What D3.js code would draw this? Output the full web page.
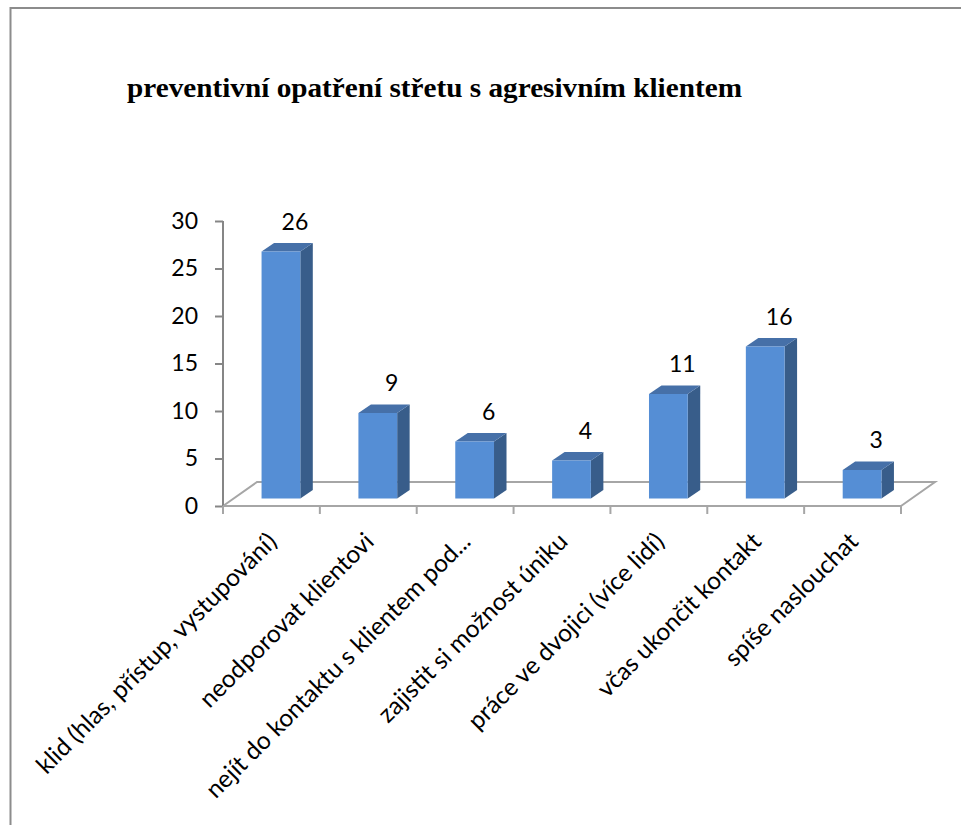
<!DOCTYPE html>
<html>
<head>
<meta charset="utf-8">
<script src="https://cdnjs.cloudflare.com/ajax/libs/d3/7.8.5/d3.min.js"></script>
<style>
  body { margin: 0; background: #fff; }
  svg { display: block; }
</style>
</head>
<body>
<script>
(function() {

    // Data
    var categories = [
        'klid (hlas, přístup, vystupování)',
        'neodporovat klientovi',
        'nejít do kontaktu s klientem pod...',
        'zajistit si možnost úniku',
        'práce ve dvojici (více lidí)',
        'včas ukončit kontakt',
        'spíše naslouchat'
    ];
    var values = [26, 9, 6, 4, 11, 16, 3];
    var yTicks = [0, 5, 10, 15, 20, 25, 30];
    var title = 'preventivní opatření střetu s agresivním klientem';

    var W = 961, H = 825;
    var font = 'Lato, "Open Sans", sans-serif';

    // Plot frame (front plane of the 3D floor)
    var left = 223, right = 901, bottom = 506, top = 221;
    var floorDepth = {dx: 34, dy: -24};   // front -> back of floor
    var barShift = {dx: 9.5, dy: -7.5};   // front face of bars
    var barDepth = {dx: 12.5, dy: -8.5};  // bar thickness in depth

    var x = d3.scaleBand().domain(categories).range([left, right]).paddingInner(0.6).paddingOuter(0.3);
    var xb = d3.scaleBand().domain(categories).range([left, right]);
    var y = d3.scaleLinear().domain([0, 30]).range([bottom, top]);

    var svg = d3.select('body').append('svg')
        .attr('width', W)
        .attr('height', H);

    // Outer frame
    svg.append('path')
        .attr('d', 'M10.5,' + H + 'V8H' + W)
        .attr('fill', 'none')
        .attr('stroke', '#8c8c8c')
        .attr('stroke-width', 2);

    // Title
    svg.append('text')
        .attr('x', 127)
        .attr('y', 97)
        .attr('font-family', '"Liberation Serif", "Times New Roman", serif')
        .attr('font-weight', 'bold')
        .attr('font-size', 28)
        .attr('textLength', 615)
        .attr('lengthAdjust', 'spacingAndGlyphs')
        .attr('fill', '#000')
        .text(title);

    // Floor
    svg.append('path')
        .attr('d', 'M' + left + ',' + bottom +
            'L' + (left + floorDepth.dx) + ',' + (bottom + floorDepth.dy) +
            'L' + (right + floorDepth.dx) + ',' + (bottom + floorDepth.dy) +
            'L' + right + ',' + bottom)
        .attr('fill', 'none')
        .attr('stroke', '#a6a6a6')
        .attr('stroke-width', 2);

    // Bars
    var bars = svg.append('g');
    var bw = x.bandwidth();
    categories.forEach(function(c, i) {
        var x0 = x(c) + barShift.dx;
        var x1 = x0 + bw;
        var y0 = y(values[i]) + barShift.dy;
        var y1 = bottom + barShift.dy;
        // side face
        bars.append('path')
            .attr('d', 'M' + x1 + ',' + y1 + 'L' + x1 + ',' + y0 +
                'L' + (x1 + barDepth.dx) + ',' + (y0 + barDepth.dy) +
                'L' + (x1 + barDepth.dx) + ',' + (y1 + barDepth.dy) + 'Z')
            .attr('fill', '#385d8a');
        // top face
        bars.append('path')
            .attr('d', 'M' + x0 + ',' + y0 + 'L' + x1 + ',' + y0 +
                'L' + (x1 + barDepth.dx) + ',' + (y0 + barDepth.dy) +
                'L' + (x0 + barDepth.dx) + ',' + (y0 + barDepth.dy) + 'Z')
            .attr('fill', '#4670a8');
        // front face
        bars.append('rect')
            .attr('x', x0)
            .attr('y', y0)
            .attr('width', bw)
            .attr('height', y1 - y0)
            .attr('fill', '#558ed5');
        // value label
        bars.append('text')
            .attr('x', x0 + bw / 2 + 14)
            .attr('y', y0 - 30)
            .attr('dy', '0.35em')
            .attr('text-anchor', 'middle')
            .attr('font-family', font)
            .attr('font-size', 23)
            .attr('fill', '#000')
            .text(values[i]);
    });

    // Y axis
    var yAxis = svg.append('g')
        .attr('transform', 'translate(' + left + ',0)')
        .call(d3.axisLeft(y).tickValues(yTicks).tickSize(8).tickPadding(17));
    yAxis.select('.domain').attr('stroke', '#868686').attr('stroke-width', 2)
        .attr('d', 'M0,' + top + 'V' + (bottom + 8));
    yAxis.selectAll('.tick line').attr('stroke', '#868686').attr('stroke-width', 2);
    yAxis.selectAll('.tick text')
        .attr('font-family', font)
        .attr('font-size', 23)
        .attr('fill', '#000');

    // X axis
    var xAxis = svg.append('g')
        .attr('transform', 'translate(0,' + bottom + ')');
    xAxis.append('line')
        .attr('x1', left).attr('x2', right)
        .attr('stroke', '#a6a6a6').attr('stroke-width', 2);
    xAxis.selectAll('.xt')
        .data(categories.concat(['end']))
        .enter().append('line')
        .attr('x1', function(d) { return d === 'end' ? right : xb(d); })
        .attr('x2', function(d) { return d === 'end' ? right : xb(d); })
        .attr('y1', 0).attr('y2', 8)
        .attr('stroke', '#a6a6a6').attr('stroke-width', 2);

    // Category labels, rotated
    svg.append('g').selectAll('text')
        .data(categories)
        .enter().append('text')
        .attr('transform', function(d) {
            return 'translate(' + (xb(d) + xb.bandwidth() / 2 + 1) + ',' + 537 + ') rotate(-45)';
        })
        .attr('text-anchor', 'end')
        .attr('dy', '0.35em')
        .attr('font-family', font)
        .attr('font-size', 24.5)
        .attr('fill', '#000')
        .text(function(d) { return d; });

})();
</script>
</body>
</html>
